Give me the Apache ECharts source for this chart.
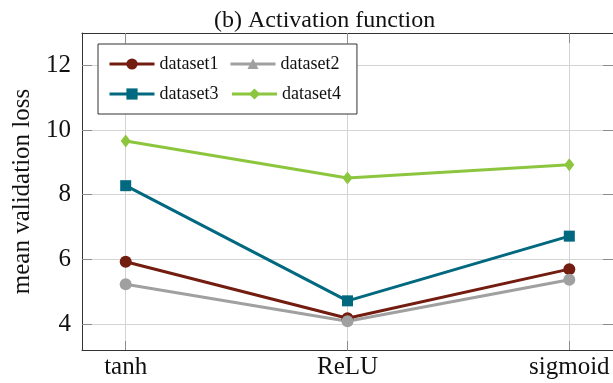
<!DOCTYPE html>
<html>
<head>
<meta charset="utf-8">
<script src="https://cdn.jsdelivr.net/npm/echarts@6/dist/echarts.min.js"></script>
<style>html,body{margin:0;padding:0;background:#fff}#c{width:613px;height:383px}</style>
</head>
<body>
<div id="c"></div>
<script>
var categories = ['tanh', 'ReLU', 'sigmoid'];
var seriesNames = ['dataset1', 'dataset2', 'dataset3', 'dataset4'];
var dataset1 = [5.93, 4.18, 5.70];
var dataset2 = [5.23, 4.09, 5.37];
var dataset3 = [8.28, 4.72, 6.72];
var dataset4 = [9.66, 8.52, 8.93];
var yTicks = [4, 6, 8, 10, 12];
var titleText = '(b) Activation function';
var yName = 'mean validation loss';

var FONT = '"Liberation Serif", "DejaVu Serif", serif';
var colors = ['#731c10', '#a0a0a0', '#00687f', '#8cc63f'];
var symbols = ['circle', 'circle', 'rect', 'diamond'];
var symbolSizes = [12, 12, 11, [10, 13]];
var values = [dataset1, dataset2, dataset3, dataset4];
var xIdx = categories.map(function (c, i) { return i; });

var triIcon = 'path://M0,0L0.01,0L0.01,0.01Z M44.99,13.99L45,13.99L45,14Z M0,5.5L45,5.5L45,8.5L0,8.5Z M22.5,1.5L28,12L17,12Z';

var chart = echarts.init(document.getElementById('c'), null, {renderer: 'canvas'});

var series = values.map(function (vals, s) {
  return {
    name: seriesNames[s],
    type: 'line',
    data: vals.map(function (v, i) { return [xIdx[i], v]; }),
    symbol: symbols[s],
    symbolSize: symbolSizes[s],
    showAllSymbol: true,
    lineStyle: {color: colors[s], width: 3},
    itemStyle: {color: colors[s], borderWidth: 0},
    emphasis: {disabled: true},
    animation: false
  };
});

var tickColor = '#8c8c8c';
var gridColor = '#d4d4d4';

chart.setOption({
  animation: false,
  backgroundColor: '#fff',
  title: {
    text: titleText,
    left: 214, top: 9, padding: 0,
    textStyle: {fontFamily: FONT, fontSize: 24, fontWeight: 'normal', color: '#111'}
  },
  legend: {
    data: seriesNames.map(function (n, i) { return i === 1 ? {name: n, icon: triIcon} : {name: n}; }),
    left: 98, top: 44, width: 240,
    padding: [11, 16, 11, 10],
    itemGap: 12, itemWidth: 45, itemHeight: 14,
    borderColor: '#333', borderWidth: 1, backgroundColor: '#fff',
    itemStyle: {borderWidth: 0},
    lineStyle: {width: 3},
    textStyle: {fontFamily: FONT, fontSize: 18, color: '#111', lineHeight: 15},
    z: 10
  },
  grid: {left: 82, right: -1, top: 33, bottom: 33, containLabel: false},
  xAxis: [{
    type: 'value', min: -0.197, max: 2.197, position: 'bottom',
    axisLine: {show: true, onZero: false, lineStyle: {color: '#333', width: 1}},
    axisTick: {show: true, inside: true, length: 9, customValues: xIdx, lineStyle: {color: tickColor}},
    axisLabel: {customValues: xIdx, margin: 5, fontFamily: FONT, fontSize: 25, color: '#111',
      formatter: function (v) { return categories[Math.round(v)] || ''; }},
    splitLine: {show: true, lineStyle: {color: gridColor, width: 1}}
  }, {
    type: 'value', min: -0.197, max: 2.197, position: 'top',
    axisLine: {show: true, onZero: false, lineStyle: {color: '#333', width: 1}},
    axisTick: {show: true, inside: true, length: 10, customValues: xIdx, lineStyle: {color: tickColor}},
    axisLabel: {show: false},
    splitLine: {show: false}
  }],
  yAxis: [{
    type: 'value', min: 3.2, max: 13, position: 'left',
    name: yName, nameLocation: 'middle', nameGap: 46, nameRotate: 90,
    nameTextStyle: {fontFamily: FONT, fontSize: 25, color: '#111'},
    axisLine: {show: true, onZero: false, lineStyle: {color: '#333', width: 1}},
    axisTick: {show: true, inside: true, length: 10, customValues: yTicks, lineStyle: {color: tickColor}},
    axisLabel: {customValues: yTicks, margin: 11, fontFamily: FONT, fontSize: 25, color: '#111'},
    splitLine: {show: true, lineStyle: {color: gridColor, width: 1}}
  }, {
    type: 'value', min: 3.2, max: 13, position: 'right',
    axisLine: {show: false, onZero: false},
    axisTick: {show: true, inside: true, length: 10, customValues: yTicks, lineStyle: {color: tickColor}},
    axisLabel: {show: false},
    splitLine: {show: false}
  }],
  series: series
});
</script>
</body>
</html>
